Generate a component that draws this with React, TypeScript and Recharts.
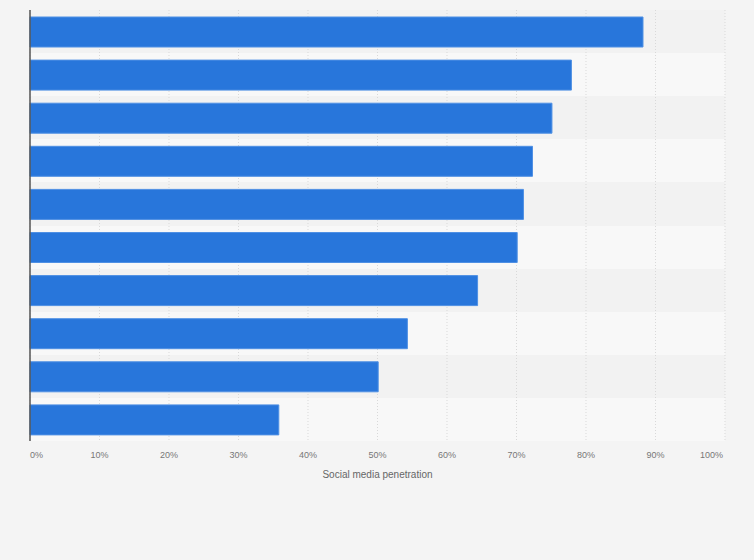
import { BarChart, Bar, XAxis, YAxis, CartesianGrid } from "recharts";

// categories are not labelled in the picture, so ranks are used as keys
const categories = ["1", "2", "3", "4", "5", "6", "7", "8", "9", "10"];
const penetration = [88.2, 77.9, 75.1, 72.3, 71.0, 70.1, 64.4, 54.3, 50.1, 35.8];
const xTicks = [0, 10, 20, 30, 40, 50, 60, 70, 80, 90, 100];

const data = categories.map((name, i) => ({ name, value: penetration[i] }));

const FONT = "'Liberation Sans', Arial, sans-serif";

// first and last labels are pushed inside the plot, like the original
const XTick = ({ x, y, payload, index }: any) => {
  let anchor: "start" | "middle" | "end" = "middle";
  let dx = 0;
  if (index === 0) anchor = "start";
  if (index === xTicks.length - 1) {
    anchor = "end";
    dx = -2;
  }
  return (
    <text x={x + dx} y={y} dy="0.71em" textAnchor={anchor} fontSize={9} fill="#777" fontFamily={FONT}>
      {`${payload.value}%`}
    </text>
  );
};

export default function App() {
  return (
    <div style={{ position: "absolute", left: 0, top: 0, width: 754, height: 560, background: "#f4f4f4" }}>
      <BarChart
        width={754}
        height={560}
        data={data}
        layout="vertical"
        margin={{ top: 10, right: 29, left: 29, bottom: 79 }}
      >
        {/* alternating row bands */}
        <CartesianGrid
          vertical={false}
          stroke="none"
          horizontalFill={["#f2f2f2", "#f8f8f8"]}
          horizontalCoordinatesGenerator={({ offset }: any) =>
            categories.map((_, i) => offset.top + (i * offset.height) / categories.length)
          }
        />
        <CartesianGrid horizontal={false} stroke="#d9d9d9" strokeDasharray="1 2" />
        <XAxis
          type="number"
          domain={[0, 100]}
          ticks={xTicks}
          axisLine={false}
          tickLine={false}
          tickMargin={5}
          height={40}
          tick={<XTick />}
          label={{
            value: "Social media penetration",
            position: "insideBottom",
            offset: 3,
            fontSize: 10,
            fill: "#666",
            fontFamily: FONT,
          }}
        />
        <Bar
          dataKey="value"
          fill="#2876db"
          stroke="#4f90e4"
          strokeWidth={1}
          barSize={30}
          isAnimationActive={false}
        />
        <YAxis
          type="category"
          dataKey="name"
          width={1}
          tick={false}
          tickLine={false}
          axisLine={{ stroke: "#555", strokeWidth: 1.5 }}
        />
      </BarChart>
    </div>
  );
}
